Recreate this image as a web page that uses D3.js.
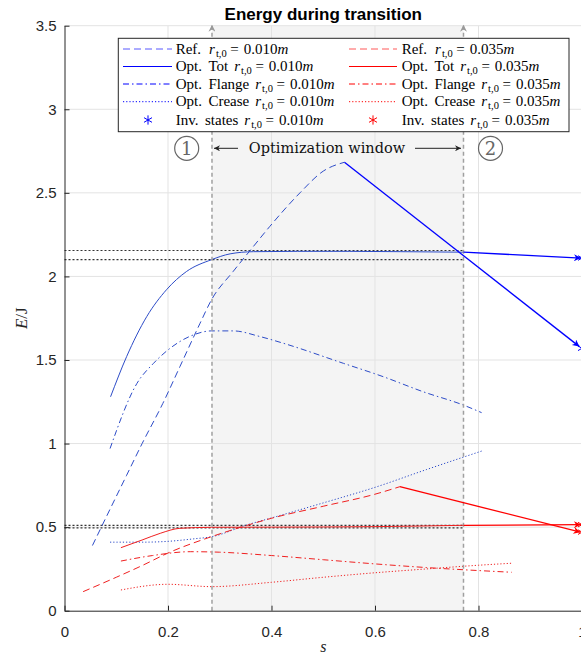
<!DOCTYPE html>
<html>
<head>
<meta charset="utf-8">
<script src="https://cdn.jsdelivr.net/npm/d3@7"></script>
<style>
  html, body { margin: 0; padding: 0; background: #fff; overflow: hidden; }
  svg { display: block; }
</style>
</head>
<body>
<svg id="chart" width="581" height="658"></svg>
<script>
// ---------- DATA ----------
const xTicks = [0, 0.2, 0.4, 0.6, 0.8, 1];
const xTickLabels = ["0", "0.2", "0.4", "0.6", "0.8", "1"];
const yTicks = [0, 0.5, 1, 1.5, 2, 2.5, 3, 3.5];
const yTickLabels = ["0", "0.5", "1", "1.5", "2", "2.5", "3", "3.5"];

const windowStart = 0.285;
const windowEnd = 0.771;

// r_t,0 = 0.010 m (blue)
const sRefA   = [0.054, 0.09, 0.12, 0.15, 0.19, 0.223, 0.262, 0.284, 0.326, 0.36, 0.397, 0.455, 0.50, 0.541];
const eRefA   = [0.39, 0.62, 0.81, 1.00, 1.24, 1.46, 1.72, 1.86, 2.03, 2.16, 2.30, 2.50, 2.63, 2.683];
const sTotA   = [0.089, 0.12, 0.159, 0.197, 0.236, 0.284, 0.32, 0.365, 0.45, 0.55, 0.65, 0.771];
const eTotA   = [1.28, 1.52, 1.76, 1.92, 2.03, 2.10, 2.135, 2.148, 2.15, 2.15, 2.148, 2.145];
const sFlgA   = [0.088, 0.14, 0.172, 0.204, 0.249, 0.284, 0.326, 0.378, 0.423, 0.539, 0.616, 0.693, 0.771, 0.806];
const eFlgA   = [0.97, 1.36, 1.48, 1.57, 1.65, 1.674, 1.674, 1.64, 1.60, 1.48, 1.40, 1.31, 1.23, 1.185];
const sCrsA   = [0.088, 0.15, 0.2, 0.25, 0.285, 0.352, 0.4, 0.5, 0.6, 0.7, 0.807];
const eCrsA   = [0.41, 0.41, 0.415, 0.43, 0.443, 0.513, 0.555, 0.645, 0.738, 0.845, 0.956];
const invA    = [2.11, 1.57];     // inverse states at s = 1
const goalA   = [2.155, 2.10];    // dotted reference levels

// r_t,0 = 0.035 m (red)
const sRefB   = [0.036, 0.1, 0.15, 0.2, 0.284, 0.352, 0.4, 0.5, 0.6, 0.648];
const eRefB   = [0.114, 0.20, 0.27, 0.345, 0.443, 0.51, 0.553, 0.625, 0.697, 0.742];
const sTotB   = [0.109, 0.15, 0.185, 0.223, 0.284, 0.4, 0.6, 0.771];
const eTotB   = [0.377, 0.423, 0.463, 0.493, 0.499, 0.50, 0.503, 0.511];
const sFlgB   = [0.109, 0.17, 0.243, 0.3, 0.4, 0.5, 0.6, 0.7, 0.771, 0.864];
const eFlgB   = [0.297, 0.33, 0.353, 0.35, 0.33, 0.305, 0.28, 0.258, 0.245, 0.23];
const sCrsB   = [0.109, 0.2, 0.284, 0.4, 0.5, 0.6, 0.7, 0.8, 0.864];
const eCrsB   = [0.124, 0.158, 0.144, 0.17, 0.20, 0.227, 0.25, 0.272, 0.284];
const invB    = [0.515, 0.47];
const goalB   = [0.511, 0.495];

// transitions to the end state (s = 1)
const arrowsA = [[windowEnd, 2.145, 0.998, 2.11], [0.541, 2.683, 0.995, 1.58]];
const arrowsB = [[windowEnd, 0.511, 0.998, 0.515], [0.648, 0.742, 0.997, 0.47]];

const legendPrefixes = [["Ref."], ["Opt.", "Tot"], ["Opt.", "Flange"], ["Opt.", "Crease"], ["Inv.", "states"]];
const legendVals  = ["0.010", "0.035"];

// ---------- SETUP ----------
const svg = d3.select("#chart");
const x = d3.scaleLinear().domain([0, 1]).range([64.5, 582]);
const y = d3.scaleLinear().domain([0, 3.5]).range([610.7, 25.7]);
const BLUE = "#0000ff", RED = "#ff0000";
const thinBlue = "#2d4cc8", thinRed = "#f02020";

const defs = svg.append("defs");
function marker(id, color, w, h) {
  const m = defs.append("marker").attr("id", id)
    .attr("viewBox", "0 0 10 10").attr("refX", 10).attr("refY", 5)
    .attr("markerUnits", "userSpaceOnUse")
    .attr("markerWidth", w).attr("markerHeight", h).attr("orient", "auto");
  m.append("path").attr("d", "M0,0 L10,5 L0,10 L3,5 Z").attr("fill", color);
}
marker("arrB", BLUE, 12, 7);
marker("arrR", RED, 12, 7);
marker("arrK", "#222", 10, 6);
marker("arrG", "#999", 8, 7);

// shaded optimization window
svg.append("rect")
  .attr("x", x(windowStart)).attr("y", y(3.5))
  .attr("width", x(windowEnd) - x(windowStart))
  .attr("height", y(0) - y(3.5))
  .attr("fill", "#f4f4f4");

// grid
const grid = svg.append("g");
grid.selectAll(".gx").data(xTicks.filter(d => d > 0)).join("line")
  .attr("x1", d => x(d)).attr("x2", d => x(d))
  .attr("y1", y(0)).attr("y2", y(3.5))
  .attr("stroke", "#e3e3e3").attr("stroke-width", 1);
grid.selectAll(".gy").data(yTicks.filter(d => d > 0)).join("line")
  .attr("x1", x(0)).attr("x2", 581)
  .attr("y1", d => y(d)).attr("y2", d => y(d))
  .attr("stroke", "#e3e3e3").attr("stroke-width", 1);

// dotted goal levels
const goals = goalA.concat(goalB);
svg.selectAll(".goal").data(goals).join("line")
  .attr("x1", x(0)).attr("x2", x(windowEnd))
  .attr("y1", d => y(d)).attr("y2", d => y(d))
  .attr("stroke", "#333").attr("stroke-width", 1.2)
  .attr("stroke-dasharray", "2,2");

// curves
const line = d3.line().x(d => x(d[0])).y(d => y(d[1])).curve(d3.curveMonotoneX);
function zip(s, e) { return s.map((v, i) => [v, e[i]]); }
const series = [
  {s: sRefA, e: eRefA, c: thinBlue, dash: "7,4"},
  {s: sTotA, e: eTotA, c: thinBlue, dash: null},
  {s: sFlgA, e: eFlgA, c: thinBlue, dash: "6,3,1.5,3"},
  {s: sCrsA, e: eCrsA, c: thinBlue, dash: "1.2,2"},
  {s: sRefB, e: eRefB, c: thinRed, dash: "7,4"},
  {s: sTotB, e: eTotB, c: thinRed, dash: null},
  {s: sFlgB, e: eFlgB, c: thinRed, dash: "6,3,1.5,3"},
  {s: sCrsB, e: eCrsB, c: thinRed, dash: "1.2,2"}
];
svg.selectAll(".curve").data(series).join("path")
  .attr("d", d => line(zip(d.s, d.e)))
  .attr("fill", "none").attr("stroke", d => d.c)
  .attr("stroke-width", 1)
  .attr("stroke-dasharray", d => d.dash);

// window boundaries
svg.selectAll(".wb").data([windowStart, windowEnd]).join("line")
  .attr("x1", d => x(d)).attr("x2", d => x(d))
  .attr("y1", y(0)).attr("y2", y(3.5) - 1)
  .attr("stroke", "#a0a0a0").attr("stroke-width", 1.5)
  .attr("stroke-dasharray", "4,3")
  .attr("marker-end", "url(#arrG)");

// transition arrows
svg.selectAll(".arA").data(arrowsA).join("line")
  .attr("x1", d => x(d[0])).attr("y1", d => y(d[1]))
  .attr("x2", d => x(d[2])).attr("y2", d => y(d[3]))
  .attr("stroke", BLUE).attr("stroke-width", 1.3)
  .attr("marker-end", "url(#arrB)");
svg.selectAll(".arB").data(arrowsB).join("line")
  .attr("x1", d => x(d[0])).attr("y1", d => y(d[1]))
  .attr("x2", d => x(d[2])).attr("y2", d => y(d[3]))
  .attr("stroke", RED).attr("stroke-width", 1.3)
  .attr("marker-end", "url(#arrR)");

// inverse-state markers
const star = d3.symbol().type(d3.symbolAsterisk).size(60);
svg.selectAll(".invA").data(invA).join("path")
  .attr("d", star).attr("transform", d => `translate(${x(1)},${y(d)})`)
  .attr("fill", "none").attr("stroke", BLUE).attr("stroke-width", 1);
svg.selectAll(".invB").data(invB).join("path")
  .attr("d", star).attr("transform", d => `translate(${x(1)},${y(d)})`)
  .attr("fill", "none").attr("stroke", RED).attr("stroke-width", 1);

// axes
const ax = svg.append("g").attr("transform", `translate(0,${y(0)})`)
  .call(d3.axisBottom(x).tickValues(xTicks).tickFormat((d, i) => xTickLabels[i])
    .tickSizeInner(-5).tickSizeOuter(0).tickPadding(16));
const ay = svg.append("g").attr("transform", `translate(${x(0)},0)`)
  .call(d3.axisLeft(y).tickValues(yTicks).tickFormat((d, i) => yTickLabels[i])
    .tickSizeInner(-5).tickSizeOuter(0).tickPadding(8));
[ax, ay].forEach(g => {
  g.selectAll("path, line").attr("stroke", "#262626").attr("stroke-width", 1);
  g.selectAll("text").attr("font-family", "Liberation Sans, Arial, sans-serif")
    .attr("font-size", 15).attr("fill", "#262626");
});

// axis labels
svg.append("text").attr("x", x(0.5)).attr("y", 652).attr("text-anchor", "middle")
  .attr("font-family", "Liberation Serif, serif").attr("font-style", "italic")
  .attr("font-size", 16).attr("fill", "#262626").text("s");
const yl = svg.append("text").attr("transform", `translate(27,${y(1.75)}) rotate(-90)`)
  .attr("text-anchor", "middle").attr("font-family", "Liberation Serif, serif")
  .attr("font-size", 17).attr("fill", "#262626");
yl.append("tspan").attr("font-style", "italic").text("E");
yl.append("tspan").text("/J");

// title
svg.append("text").attr("x", x(0.5)).attr("y", 20).attr("text-anchor", "middle")
  .attr("font-family", "Liberation Sans, Arial, sans-serif").attr("font-weight", "bold")
  .attr("font-size", 17).attr("fill", "#000").text("Energy during transition");

// optimization window annotation
const annY = 148.3;
svg.append("text").attr("x", 327).attr("y", annY + 5).attr("text-anchor", "middle")
  .attr("font-family", "DejaVu Serif, serif").attr("font-size", 14.5)
  .attr("fill", "#111").text("Optimization window");
svg.append("line").attr("x1", 238).attr("x2", 214).attr("y1", annY).attr("y2", annY)
  .attr("stroke", "#222").attr("stroke-width", 1).attr("marker-end", "url(#arrK)");
svg.append("line").attr("x1", 415).attr("x2", 461).attr("y1", annY).attr("y2", annY)
  .attr("stroke", "#222").attr("stroke-width", 1).attr("marker-end", "url(#arrK)");
[["1", 186.7], ["2", 490.5]].forEach(([t, cx]) => {
  svg.append("circle").attr("cx", cx).attr("cy", annY).attr("r", 12)
    .attr("fill", "none").attr("stroke", "#666").attr("stroke-width", 1.2);
  svg.append("text").attr("x", cx).attr("y", annY + 6.5).attr("text-anchor", "middle")
    .attr("font-family", "DejaVu Serif, serif").attr("font-size", 18)
    .attr("fill", "#666").text(t);
});

// legend
const lg = svg.append("g");
lg.append("rect").attr("x", 118.3).attr("y", 38.3).attr("width", 450.7).attr("height", 93.4)
  .attr("fill", "#fff").attr("stroke", "#262626").attr("stroke-width", 1);
const rowY = [49, 66.5, 84, 101.7, 120];
const dashes = ["7,4", null, "6,3,1.5,3", "1.2,2", null];
const cols = [
  {x0: 123, x1: 172, tx: 175.7, mx: 148, c: BLUE, v: legendVals[0]},
  {x0: 349, x1: 397, tx: 401.7, mx: 373, c: RED, v: legendVals[1]}
];
cols.forEach(col => {
  legendPrefixes.forEach((words, i) => {
    const yy = rowY[i];
    if (i < 4) {
      lg.append("line").attr("x1", col.x0).attr("x2", col.x1).attr("y1", yy).attr("y2", yy)
        .attr("stroke", col.c).attr("stroke-width", 1).attr("stroke-dasharray", dashes[i])
        .attr("opacity", i === 0 ? 0.65 : 1);
    } else {
      lg.append("path").attr("d", star).attr("transform", `translate(${col.mx},${yy})`)
        .attr("fill", "none").attr("stroke", col.c).attr("stroke-width", 1);
    }
    const t = lg.append("text").attr("x", col.tx).attr("y", yy + 4.5)
      .attr("font-family", "Liberation Serif, serif").attr("font-size", 15)
      .attr("fill", "#000");
    words.forEach((w, k) => t.append("tspan").attr("dx", k === 0 ? 0 : 6.5).text(w));
    t.append("tspan").attr("dx", words.length === 1 ? 8 : 6).attr("font-style", "italic").text("r");
    t.append("tspan").attr("dx", 1).attr("font-size", 10.5).attr("dy", 3).text("t,0");
    t.append("tspan").attr("dx", 3.5).attr("dy", -3).text("=");
    t.append("tspan").attr("dx", 5).text(col.v);
    t.append("tspan").attr("font-style", "italic").text("m");
  });
});
</script>
</body>
</html>
